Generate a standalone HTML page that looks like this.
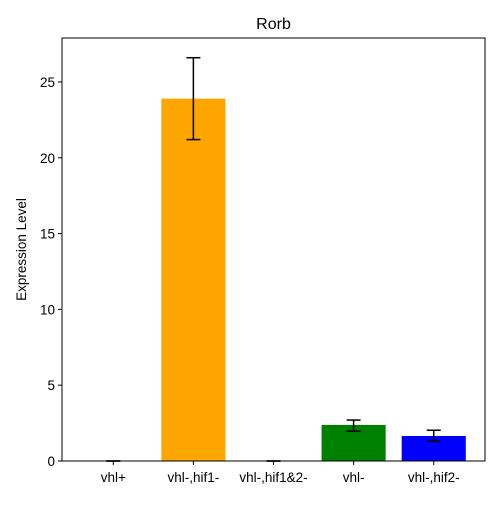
<!DOCTYPE html>
<html><head><meta charset="utf-8"><style>body{margin:0;background:#fff}svg{font-family:"Liberation Sans",sans-serif}</style></head>
<body>
<svg id="c" width="500" height="500"></svg>
<script>
const categories=["vhl+","vhl-,hif1-","vhl-,hif1&2-","vhl-","vhl-,hif2-"];
const values=[0.0,23.9,0.0,2.38,1.65];
const errLow=[0.0,21.2,0.0,1.97,1.3];
const errHigh=[0.0,26.6,0.0,2.7,2.03];
const colors=["#1f77b4","orange","#e377c2","green","blue"];
const yTicks=[0,5,10,15,20,25];
const NS="http://www.w3.org/2000/svg";
const svg=document.getElementById('c');
const L=62,R=485,T=38,B=461,ymax=27.9;
const y=v=>B-v/ymax*(B-T);
const xmin=-0.64,xmax=4.64;
const x=i=>L+(i-xmin)/(xmax-xmin)*(R-L);
const bw=0.8*(R-L)/(xmax-xmin);
function mk(t,a,p){const e=document.createElementNS(NS,t);for(const k in a)e.setAttribute(k,a[k]);(p||svg).appendChild(e);return e;}
const title=mk('text',{x:273.5,y:29,'text-anchor':'middle','font-size':16});title.textContent='Rorb';


values.forEach((v,i)=>{
 const r=mk('rect',{x:x(i)-bw/2,y:y(v),width:bw,height:B-y(v),fill:colors[i]});
 
 
 const g=mk('g',{stroke:'#000','stroke-width':1.5});
 
 
 mk('line',{x1:x(i),x2:x(i),y1:y(errLow[i]),y2:y(errHigh[i])},g);
 mk('line',{x1:x(i)-7,x2:x(i)+7,y1:y(errLow[i]),y2:y(errLow[i])},g);
 mk('line',{x1:x(i)-7,x2:x(i)+7,y1:y(errHigh[i]),y2:y(errHigh[i])},g);
 mk('line',{x1:x(i),x2:x(i),y1:B,y2:B+4,stroke:'#000'});
 const t=mk('text',{x:x(i),y:B+21,'text-anchor':'middle','font-size':13.5});t.textContent=categories[i];
 
 
});
yTicks.forEach(v=>{
 mk('line',{x1:L-4,x2:L,y1:y(v),y2:y(v),stroke:'#000'});
 const t=mk('text',{x:L-7,y:y(v)+5,'text-anchor':'end','font-size':13.5});t.textContent=v;
 
 
});
const f=mk('rect',{x:L,y:T,width:R-L,height:B-T,fill:'none',stroke:'#000'});


const yl=mk('text',{x:26,y:249.5,'text-anchor':'middle','font-size':13.5,transform:'rotate(-90 26 249.5)'});yl.textContent='Expression Level';


</script>
</body></html>
